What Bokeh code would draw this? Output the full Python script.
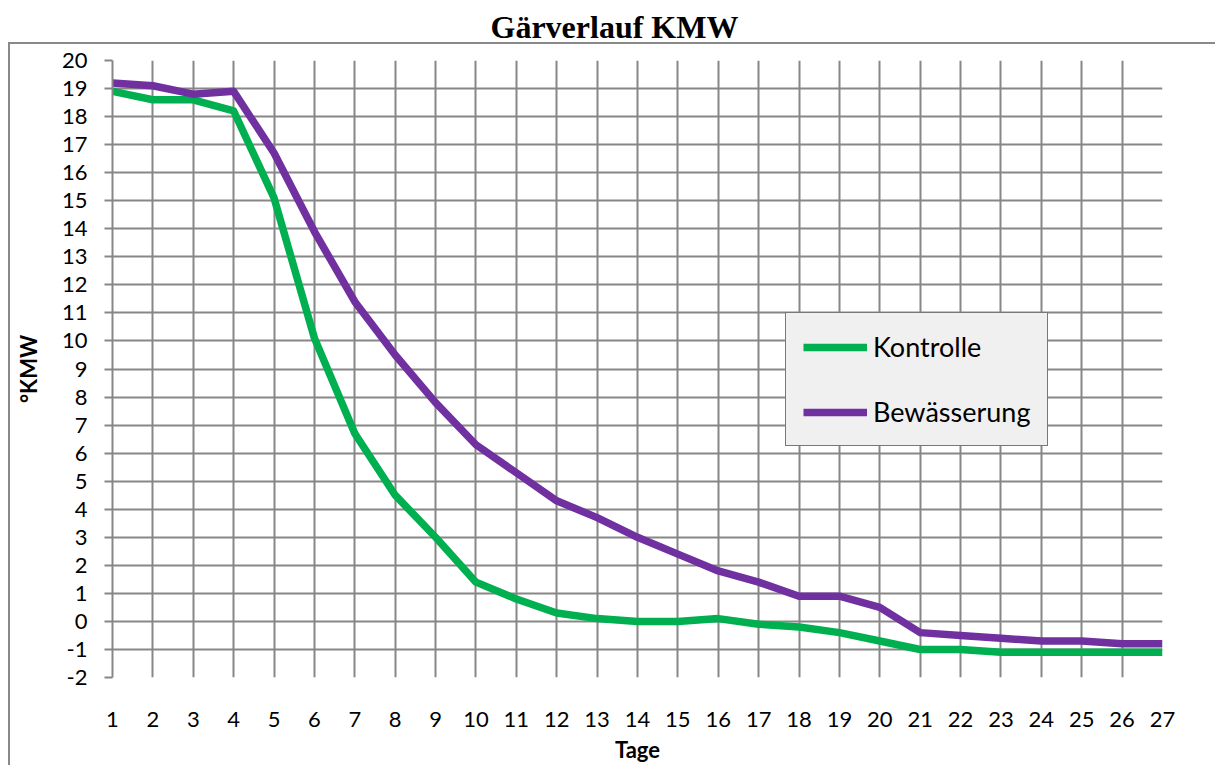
from bokeh.plotting import figure
from bokeh.models import FixedTicker, Legend, LegendItem, Range1d, Title, InlineStyleSheet
from bokeh.embed import file_html
from bokeh.resources import INLINE

days = list(range(1, 28))
kontrolle = [18.9, 18.6, 18.6, 18.2, 15.1, 10.1, 6.7, 4.5, 3.0, 1.4, 0.8, 0.3, 0.1, 0.0,
             0.0, 0.1, -0.1, -0.2, -0.4, -0.7, -1.0, -1.0, -1.1, -1.1, -1.1, -1.1, -1.1]
bewaesserung = [19.2, 19.1, 18.8, 18.9, 16.7, 13.9, 11.4, 9.5, 7.8, 6.3, 5.3, 4.3, 3.7, 3.0,
                2.4, 1.8, 1.4, 0.9, 0.9, 0.5, -0.4, -0.5, -0.6, -0.7, -0.7, -0.8, -0.8]
y_ticks = list(range(-2, 21))
y_tick_labels = [str(v) for v in y_ticks]
title_text = "Gärverlauf KMW"
x_label = "Tage"
y_label = "°KMW"
series_names = ["Kontrolle", "Bewässerung"]

GREEN = "#00b050"
PURPLE = "#7030a0"
GRID = "#878787"

css = InlineStyleSheet(css="""
:host { position: relative; }
:host::after {
  content: "";
  position: absolute;
  left: 8px; top: 42px;
  width: 1207px; height: 723px;
  box-sizing: border-box;
  border-left: 2px solid #898989;
  border-top: 2px solid #898989;
  pointer-events: none;
}
""")

p = figure(width=1215, height=765, output_backend="svg", toolbar_location=None,
           x_range=Range1d(1, 27), y_range=Range1d(-2, 20),
           min_border_left=112, min_border_right=53, min_border_top=60, min_border_bottom=88,
           stylesheets=[css])
p.title = None
# spacer panel between the frame and the title (keeps the title clear of the chart border)
spacer = Title(text=" ", text_font_size="1px", standoff=11)
p.add_layout(spacer, "above")
t = Title(text=title_text, align="left", offset=378, text_font="Liberation Serif",
          text_font_size="32px", text_font_style="bold", text_color="black",
          vertical_align="top", standoff=0)
p.add_layout(t, "above")

p.background_fill_color = "white"
p.border_fill_color = "white"
p.outline_line_color = None

p.xaxis.ticker = FixedTicker(ticks=days)
p.yaxis.ticker = FixedTicker(ticks=y_ticks)
p.yaxis.major_label_overrides = dict(zip(y_ticks, y_tick_labels))
p.xgrid.ticker = FixedTicker(ticks=days)
p.ygrid.ticker = FixedTicker(ticks=y_ticks)
for g in (p.xgrid, p.ygrid):
    g.grid_line_color = GRID
    g.grid_line_width = 2

for ax in (p.xaxis, p.yaxis):
    ax.major_label_text_font = "Lato"
    ax.major_label_text_font_size = "22px"
    ax.major_label_text_color = "black"
    ax.axis_label_text_font = "Lato"
    ax.axis_label_text_font_size = "22px"
    ax.axis_label_text_font_style = "bold"
    ax.axis_label_text_color = "black"
    ax.minor_tick_line_color = None

p.xaxis.axis_label = x_label
p.xaxis.axis_line_color = None
p.xaxis.major_tick_line_color = None
p.xaxis.major_tick_out = 0
p.xaxis.major_tick_in = 0
p.xaxis.major_label_standoff = 34
p.xaxis.axis_label_standoff = 6

p.yaxis.axis_label = y_label
p.yaxis.axis_line_color = GRID
p.yaxis.axis_line_width = 2
p.yaxis.major_tick_line_color = GRID
p.yaxis.major_tick_line_width = 2
p.yaxis.major_tick_out = 8
p.yaxis.major_tick_in = 0
p.yaxis.major_label_standoff = 17
p.yaxis.axis_label_standoff = 17

r1 = p.line(days, kontrolle, line_color=GREEN, line_width=7.5, line_join="round")
r2 = p.line(days, bewaesserung, line_color=PURPLE, line_width=7.5, line_join="round")

legend = Legend(items=[LegendItem(label=series_names[0], renderers=[r1]),
                       LegendItem(label=series_names[1], renderers=[r2])],
                location=(673, 231))
legend.background_fill_color = "#f0f0f0"
legend.background_fill_alpha = 1
legend.border_line_color = "black"
legend.border_line_width = 1.5
legend.label_text_font = "Lato"
legend.label_text_font_size = "27px"
legend.label_text_color = "black"
legend.padding = 17
legend.spacing = 32
legend.glyph_width = 64
legend.label_standoff = 6
p.add_layout(legend, "center")

open("out.html", "w").write(file_html(p, INLINE))
